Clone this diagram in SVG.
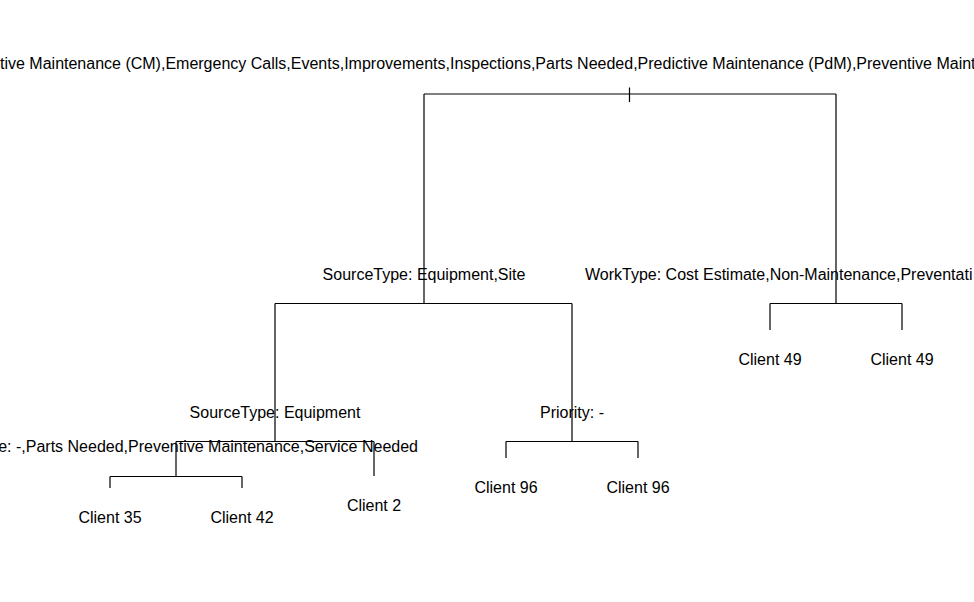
<svg xmlns="http://www.w3.org/2000/svg" width="974" height="602" viewBox="0 0 974 602">
<style>
text{font-family:"Liberation Sans",Arial,sans-serif;font-size:16px;fill:#000}
.c{text-anchor:middle}
.e{stroke:#000;stroke-width:1.2;fill:none}
</style>
<rect width="974" height="602" fill="#fff"/>
<g id="connectors">
<path class="e" d="M629.5 87.5V102M424 94H836M424 94V303.5M836 94V303.5"/>
<path class="e" d="M275 303.5H572M275 303.5V441.5M572 303.5V441.5"/>
<path class="e" d="M770 303.5H902M770 303.5V330M902 303.5V330"/>
<path class="e" d="M176 441.5H374M176 441.5V476.5M374 441.5V476"/>
<path class="e" d="M110 476.5H242M110 476.5V488M242 476.5V488"/>
<path class="e" d="M506 441.5H638M506 441.5V458M638 441.5V458"/>
</g>
<g id="n-root"><text x="0" y="69">tive Maintenance (CM),Emergency Calls,Events,Improvements,Inspections,Parts Needed,Predictive Maintenance (PdM),Preventive Maint</text></g>
<g id="n-source-site"><text class="c" x="424" y="279.5">SourceType: Equipment,Site</text></g>
<g id="n-worktype"><text x="585" y="279.5">WorkType: Cost Estimate,Non-Maintenance,Preventati</text></g>
<g id="n-client49a"><text class="c" x="770" y="365">Client 49</text></g>
<g id="n-client49b"><text class="c" x="902" y="365">Client 49</text></g>
<g id="n-source-equip"><text class="c" x="275" y="417.5">SourceType: Equipment</text></g>
<g id="n-priority"><text class="c" x="572" y="417.5">Priority: -</text></g>
<g id="n-type"><text x="418" y="452" text-anchor="end">e: -,Parts Needed,Preventive Maintenance,Service Needed</text></g>
<g id="n-client2"><text class="c" x="374" y="511">Client 2</text></g>
<g id="n-client35"><text class="c" x="110" y="523">Client 35</text></g>
<g id="n-client42"><text class="c" x="242" y="523">Client 42</text></g>
<g id="n-client96a"><text class="c" x="506" y="493">Client 96</text></g>
<g id="n-client96b"><text class="c" x="638" y="493">Client 96</text></g>
</svg>
